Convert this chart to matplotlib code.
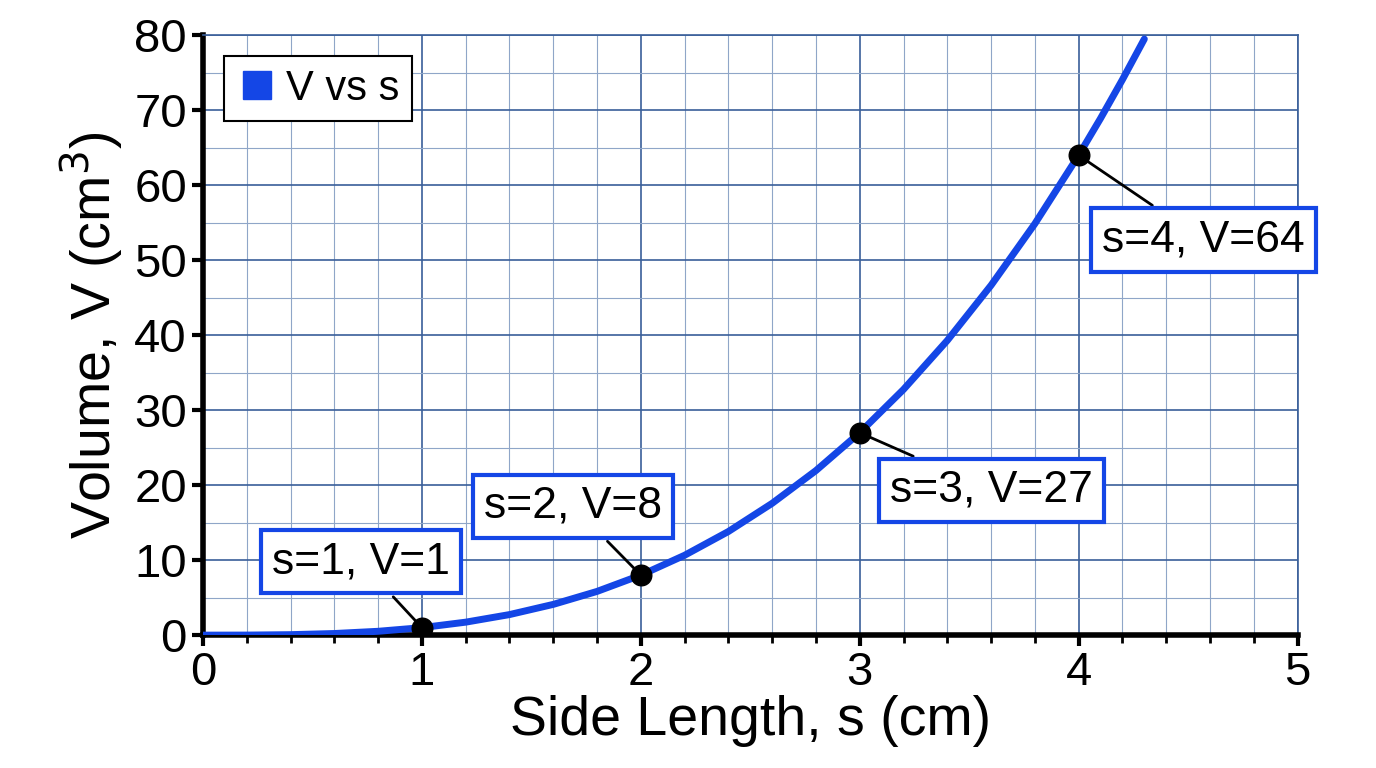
import matplotlib
matplotlib.use("Agg")
import matplotlib.pyplot as plt
from matplotlib.ticker import MultipleLocator
from matplotlib.lines import Line2D

plt.rcParams["font.family"] = ["Liberation Sans", "DejaVu Sans"]

# Curve values
side = [0.0, 0.2, 0.4, 0.6, 0.8, 1.0, 1.2, 1.4, 1.6, 1.8, 2.0, 2.2, 2.4, 2.6,
        2.8, 3.0, 3.2, 3.4, 3.6, 3.8, 4.0, 4.1, 4.2, 4.3]
volume = [0.0, 0.008, 0.064, 0.216, 0.512, 1.0, 1.73, 2.74, 4.10, 5.83, 8.0, 10.65,
          13.82, 17.58, 21.95, 27.0, 32.77, 39.30, 46.66, 54.87, 64.0, 68.92, 74.09, 79.51]
point_s = [1, 2, 3, 4]
point_v = [1, 8, 27, 64]
labels = ["s=1, V=1", "s=2, V=8", "s=3, V=27", "s=4, V=64"]
label_pos = [(0.72, 9.8), (1.69, 17.2), (3.6, 19.3), (4.57, 52.7)]

blue = "#1446e6"

fig = plt.figure(figsize=(13.76, 7.68), dpi=100)
ax = fig.add_axes([0.1475, 0.173, 0.7955, 0.781])

ax.plot(side, volume, color=blue, lw=5, zorder=3, solid_capstyle="round",
        solid_joinstyle="round")
ax.scatter(point_s, point_v, s=220, color="black", zorder=5)
for x, y, txt, (tx, ty) in zip(point_s, point_v, labels, label_pos):
    ax.annotate(txt, (x, y), xytext=(tx, ty), fontsize=32, ha="center", va="center",
                bbox=dict(boxstyle="square,pad=0.25", fc="white", ec=blue, lw=3),
                arrowprops=dict(arrowstyle="-", color="black", lw=2), zorder=6)

ax.set_xlim(0, 5)
ax.set_ylim(0, 80)
ax.xaxis.set_major_locator(MultipleLocator(1))
ax.xaxis.set_minor_locator(MultipleLocator(0.2))
ax.yaxis.set_major_locator(MultipleLocator(10))
ax.yaxis.set_minor_locator(MultipleLocator(5))
ax.grid(which="major", color="#3a5f9a", lw=1.2)
ax.grid(which="minor", color="#8fa6c8", lw=0.8)
ax.set_axisbelow(True)
for sp in ["top", "right"]:
    ax.spines[sp].set_color("#3a5f9a")
    ax.spines[sp].set_linewidth(1.2)
for sp in ["left", "bottom"]:
    ax.spines[sp].set_linewidth(4)
ax.tick_params(which="major", labelsize=34, width=3, length=8)
ax.tick_params(which="minor", width=2, length=6)
ax.tick_params(axis="y", which="minor", length=0)

ax.set_xlabel("Side Length, s (cm)", fontsize=40, labelpad=0)
ax.set_ylabel("Volume, V (cm$^3$)", fontsize=40, labelpad=6)

handle = Line2D([], [], marker="s", ls="none", color=blue, markersize=20)
leg = ax.legend([handle], ["V vs s"], loc="upper left", fontsize=30,
                fancybox=False, edgecolor="black", framealpha=1, borderpad=0.3,
                handletextpad=0.2, handlelength=1.0)
leg.get_frame().set_linewidth(1.5)

fig.savefig("out.png", dpi=100)
